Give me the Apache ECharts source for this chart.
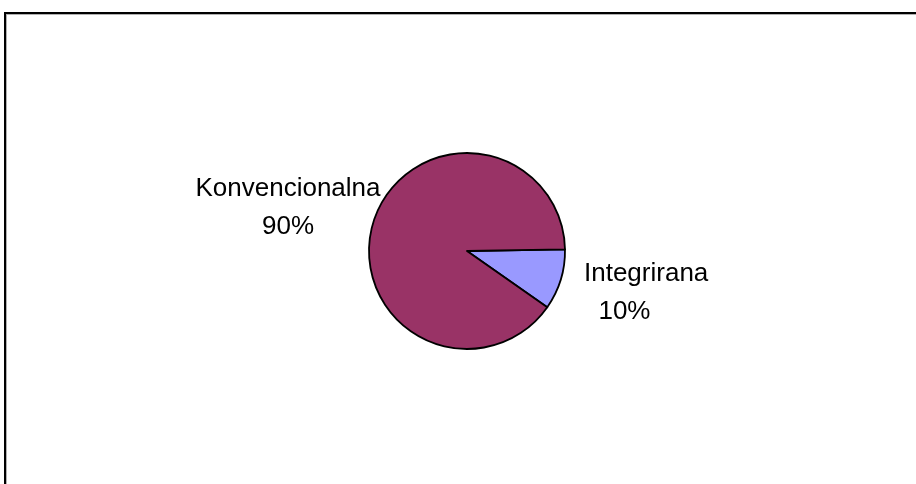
<!DOCTYPE html>
<html>
<head>
<meta charset="utf-8">
<script src="https://cdn.jsdelivr.net/npm/echarts@6/dist/echarts.min.js"></script>
<style>
html,body{margin:0;padding:0;background:#fff;}
#chart{width:916px;height:484px;}
</style>
</head>
<body>
<div id="chart"></div>
<script>
var categories = ['Integrirana', 'Konvencionalna'];
var values = [10, 90];
var colors = ['#9999FF', '#993366'];

var chart = echarts.init(document.getElementById('chart'), null, {renderer: 'canvas'});

var labelPos = {
  'Integrirana': {x: 584, y: 293, align: 'left'},
  'Konvencionalna': {x: 288, y: 208, align: 'center'}
};

var option = {
  backgroundColor: '#ffffff',
  animation: false,
  graphic: [
    {type: 'line', shape: {x1: 4, y1: 14.5, x2: 916, y2: 14.5}, style: {stroke: '#b0b0b0', lineWidth: 1}, z: 0},
    {type: 'line', shape: {x1: 4, y1: 13, x2: 916, y2: 13}, style: {stroke: '#000', lineWidth: 2}, z: 1},
    {type: 'line', shape: {x1: 5, y1: 12, x2: 5, y2: 484}, style: {stroke: '#000', lineWidth: 2}, z: 1},
    {type: 'line', shape: {x1: 6.5, y1: 14, x2: 6.5, y2: 484}, style: {stroke: '#b0b0b0', lineWidth: 1}, z: 0}
  ],
  series: [{
    type: 'pie',
    center: [467, 251],
    radius: 98,
    startAngle: 1,
    clockwise: true,
    data: categories.map(function (c, i) {
      return {name: c, value: values[i], itemStyle: {color: colors[i]}};
    }),
    itemStyle: {borderColor: '#000', borderWidth: 1.8},
    label: {
      show: true,
      position: 'outside',
      formatter: function (p) {
        return p.name === 'Integrirana' ? p.name + '\n  ' + Math.round(p.percent) + '%' : p.name + '\n' + Math.round(p.percent) + '%';
      },
      fontFamily: 'Liberation Sans, Arial, sans-serif',
      fontSize: 26,
      lineHeight: 38,
      color: '#000'
    },
    labelLine: {show: false},
    labelLayout: function (params) {
      var name = categories[params.dataIndex];
      var p = labelPos[name];
      return {x: p.x, y: p.y, align: p.align, verticalAlign: 'middle'};
    },
    emphasis: {disabled: true}
  }]
};
chart.setOption(option);
</script>
</body>
</html>
